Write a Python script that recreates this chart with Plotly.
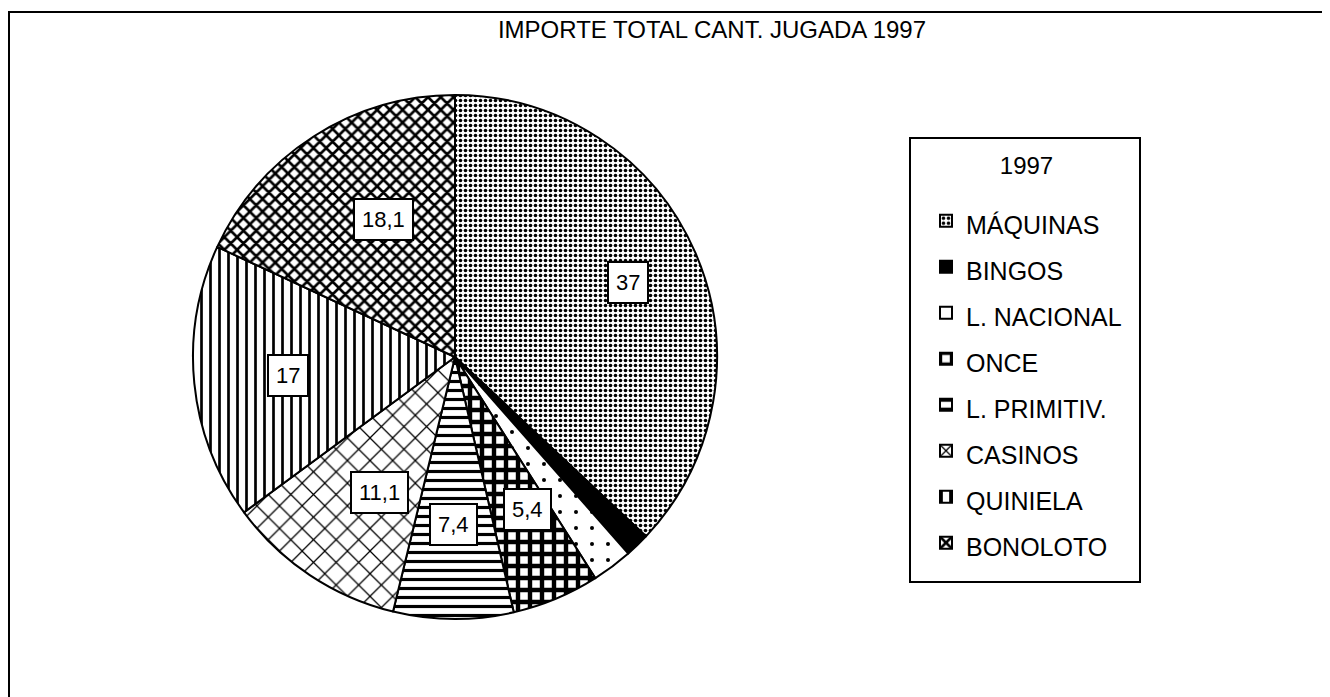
import math
import plotly.graph_objects as go

# ---- data ----
categories = ["MÁQUINAS", "BINGOS", "L. NACIONAL", "ONCE", "L. PRIMITIV.", "CASINOS", "QUINIELA", "BONOLOTO"]
values = [37, 1.5, 2.5, 5.4, 7.4, 11.1, 17, 18.1]
value_labels = ["37", "", "", "5,4", "7,4", "11,1", "17", "18,1"]
legend_title = "1997"
chart_title = "IMPORTE TOTAL CANT. JUGADA 1997"

# ---- styling ----
PAGE_MARGIN = 8            # default body margin of the html page
W, H = 1330 - PAGE_MARGIN, 697 - PAGE_MARGIN
FONT = "Liberation Sans, Arial, sans-serif"


def px(X):   # screen x -> paper
    return (X - PAGE_MARGIN) / W


def py(Y):   # screen y -> paper
    return 1 - (Y - PAGE_MARGIN) / H


cx, cy, R = 455, 357, 262  # pie centre / radius on screen

shapes = [".", "", ".", "+", "-", "x", "|", "x"]
sizes = [5, 8, 16, 12, 9, 16, 9, 9]
solid = [0.4, 0.5, 0.05, 0.6, 0.35, 0.15, 0.3, 0.5]
colors = ["white", "black", "white", "white", "white", "white", "white", "white"]

item_gap = 46
leg_font = (item_gap - 3) / 1.3
legend_names = [f'<span style="font-size:25px">{c}</span>' for c in categories]

fig = go.Figure()
fig.add_trace(go.Pie(
    labels=legend_names,
    values=values,
    sort=False,
    direction="clockwise",
    rotation=0,
    textinfo="none",
    hoverinfo="label+value",
    marker=dict(
        colors=colors,
        line=dict(color="black", width=2),
        pattern=dict(shape=shapes, size=sizes, solidity=solid,
                     fgcolor="black", bgcolor=colors, fillmode="replace"),
    ),
    domain=dict(x=[px(cx - R), px(cx + R)], y=[py(cy + R), py(cy - R)]),
    showlegend=True,
))

# boxed value labels placed at each slice's mid-angle
total = sum(values)
annotations = []
cum = 0.0
for v, lab in zip(values, value_labels):
    mid = (cum + v / 2) / total * 2 * math.pi
    cum += v
    if not lab:
        continue
    r = 0.72 * R
    X = cx + r * math.sin(mid)
    Y = cy - r * math.cos(mid)
    annotations.append(dict(
        x=px(X), y=py(Y), xref="paper", yref="paper", text=lab, showarrow=False,
        font=dict(family=FONT, size=22, color="black"),
        bgcolor="white", bordercolor="black", borderwidth=2, borderpad=7,
    ))

layout_shapes = [
    dict(type="rect", xref="paper", yref="paper", x0=px(9), x1=1.05, y0=-0.05, y1=py(12),
         line=dict(color="black", width=2), fillcolor="rgba(0,0,0,0)", layer="below"),
    dict(type="rect", xref="paper", yref="paper", x0=px(910), x1=px(1140), y0=py(582), y1=py(138),
         line=dict(color="black", width=2), fillcolor="rgba(0,0,0,0)", layer="below"),
]

fig.update_layout(
    width=W, height=H,
    margin=dict(l=0, r=0, t=0, b=0),
    paper_bgcolor="white", plot_bgcolor="white",
    font=dict(family=FONT, color="black"),
    title=dict(text=chart_title, x=px(712), xanchor="center", y=py(30), yanchor="middle",
               yref="container", font=dict(family=FONT, size=24, color="black")),
    legend=dict(
        x=px(926), xanchor="left", y=py(155), yanchor="top",
        font=dict(family=FONT, size=leg_font, color="black"),
        title=dict(text=f'<span style="font-size:24px">{legend_title}</span><br> ',
                   side="top center", font=dict(family=FONT, size=14.5)),
        bgcolor="rgba(0,0,0,0)", borderwidth=0, traceorder="normal",
    ),
    annotations=annotations,
    shapes=layout_shapes,
)

fig.write_html("out.html")
